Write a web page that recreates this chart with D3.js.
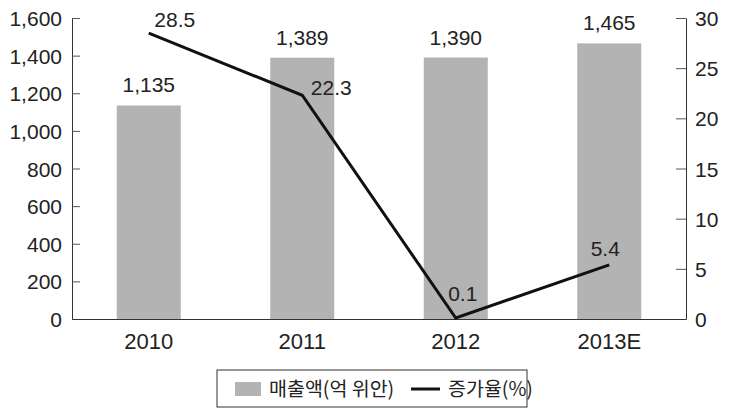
<!DOCTYPE html>
<html><head><meta charset="utf-8">
<script src="https://cdn.jsdelivr.net/npm/d3@7"></script>
<style>
body{margin:0;background:#fff;}
svg text{font-family:"Liberation Sans",Arial,sans-serif;fill:#222;}
</style></head><body>
<svg id="c" width="731" height="413"></svg>
<script>
const categories = ["2010","2011","2012","2013E"];
const sales = [1135,1389,1390,1465];
const growth = [28.5,22.3,0.1,5.4];
const leftTicks = [0,200,400,600,800,1000,1200,1400,1600];
const rightTicks = [0,5,10,15,20,25,30];
const legendLabels = ["매출액(억 위안)","증가율(%)"];

const svg = d3.select("#c");
const m = {l:72, r:686, t:18, b:319};
const xc = d3.scaleBand().domain(categories).range([m.l,m.r]);
const yL = d3.scaleLinear().domain([0,1600]).range([m.b,m.t]);
const yR = d3.scaleLinear().domain([0,30]).range([m.b,m.t]);
const fmt = d3.format(",");
const FS = "21px";

// bars
svg.selectAll("rect.bar").data(sales).enter().append("rect")
  .attr("x",(d,i)=>xc(categories[i])+xc.bandwidth()/2-32)
  .attr("width",64)
  .attr("y",d=>yL(d)).attr("height",d=>m.b-yL(d))
  .attr("fill","#b3b3b3");

// axes
const gL = svg.append("g").attr("transform",`translate(${m.l},0)`)
  .call(d3.axisLeft(yL).tickValues(leftTicks).tickFormat(fmt).tickSizeInner(-8).tickSizeOuter(0).tickPadding(10));
const gR = svg.append("g").attr("transform",`translate(${m.r},0)`)
  .call(d3.axisRight(yR).tickValues(rightTicks).tickSizeInner(-10).tickSizeOuter(0).tickPadding(9));
const gB = svg.append("g").attr("transform",`translate(0,${m.b})`)
  .call(d3.axisBottom(xc).tickSize(0).tickPadding(14));
[gL,gR,gB].forEach(g=>{
  g.selectAll("path.domain").attr("stroke","#333").attr("stroke-width",1);
  g.selectAll("line").attr("stroke","#555");
  g.selectAll("text").style("font-size",FS).style("font-family","'Liberation Sans',Arial,sans-serif").attr("fill","#222");
});
gL.selectAll(".tick text").attr("dy","0.36em");
gR.selectAll(".tick text").attr("dy","0.36em");
gB.selectAll(".tick text").attr("dy","0.71em").style("font-size","22px");

// bar labels
svg.selectAll("text.bl").data(sales).enter().append("text")
  .attr("x",(d,i)=>xc(categories[i])+xc.bandwidth()/2)
  .attr("y",d=>yL(d)-13)
  .attr("text-anchor","middle").style("font-size",FS)
  .text(d=>fmt(d));

// line
const pts = growth.map((d,i)=>[xc(categories[i])+xc.bandwidth()/2, yR(d)]);
svg.append("path").attr("d",d3.line()(pts)).attr("fill","none").attr("stroke","#111").attr("stroke-width",3);

// line labels
const lblOff = [[26,-6],[29,0],[7,-17],[-4,-9]];
svg.selectAll("text.ll").data(growth).enter().append("text")
  .attr("x",(d,i)=>pts[i][0]+lblOff[i][0])
  .attr("y",(d,i)=>pts[i][1]+lblOff[i][1])
  .attr("text-anchor","middle").style("font-size",FS)
  .text(d=>d.toFixed(1));

// legend
const lg = svg.append("g");
lg.append("rect").attr("x",217).attr("y",370).attr("width",310).attr("height",37)
  .attr("fill","#fff").attr("stroke","#333").attr("stroke-width",1);
lg.append("rect").attr("x",235).attr("y",382).attr("width",26).attr("height",14).attr("fill","#b3b3b3");
lg.append("text").attr("x",269).attr("y",396).style("font-size","19.5px")
  .style("font-family","'Noto Sans CJK KR',sans-serif").text(legendLabels[0]);
lg.append("line").attr("x1",411).attr("x2",440).attr("y1",389).attr("y2",389).attr("stroke","#111").attr("stroke-width",3);
lg.append("text").attr("x",448).attr("y",396).style("font-size","19.5px")
  .style("font-family","'Noto Sans CJK KR',sans-serif").text(legendLabels[1]);
</script>
</body></html>
